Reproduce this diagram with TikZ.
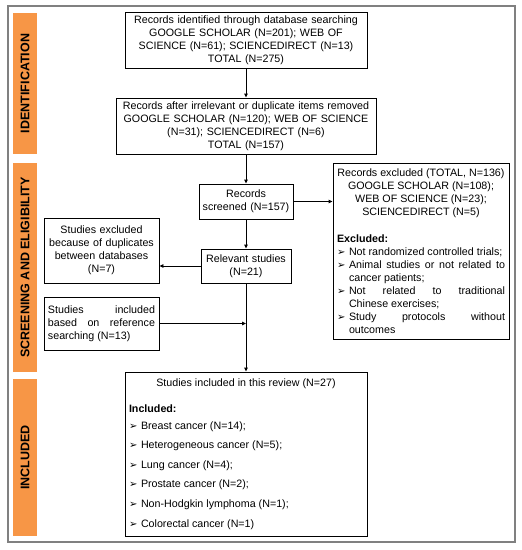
\documentclass[tikz,border=0pt]{standalone}
\usepackage{fontspec}
\setmainfont{Liberation Sans}
\newfontfamily\symfont{DejaVu Sans}
\usetikzlibrary{arrows.meta}

\definecolor{bandorange}{RGB}{247,150,70}

% rows for the hand-set boxes
\newcommand{\bul}{{\symfont\fontsize{10}{13}\selectfont ➢}}
\newcommand{\itm}[1]{\hbox to12pt{\bul\hss}#1}
\newcommand{\crow}[1]{\hbox to\hsize{\hss#1\hss}}
\newcommand{\jrow}[1]{\hbox to\hsize{#1}}
\newcommand{\lrow}[1]{\hbox to\hsize{#1\hfil}}

\begin{document}
\begin{tikzpicture}[x=1pt, y=-1pt,
    box/.style={draw, line width=0.9pt, inner xsep=4pt, inner ysep=2pt,
        font=\fontsize{10.7}{13}\selectfont},
    band/.style={fill=bandorange, rotate=90, minimum height=24pt, inner sep=0pt,
        font=\bfseries\fontsize{12.5}{13}\selectfont},
    arr/.style={-{Triangle[length=4pt,width=3.5pt]}, line width=0.9pt}]
    \useasboundingbox (0,0) rectangle (522,550);

    % Frame and stage bands
    \draw[gray, line width=1.3pt] (8,6) rectangle (515,542);
    \node[band, minimum width=141pt] (idband) at (25,83.5) {IDENTIFICATION};
    \node[band, minimum width=209pt] (scrband) at (25,267.5) {SCREENING AND ELIGIBILITY};
    \node[band, minimum width=157pt] (incband) at (25,457.5) {INCLUDED};

    % Main column
    \def\colx{246}
    \node[box, text width=234pt, minimum height=56pt, align=center] (found) at (\colx,40)
        {Records identified through database searching\\GOOGLE SCHOLAR (N=201); WEB OF\\SCIENCE (N=61); SCIENCEDIRECT (N=13)\\TOTAL (N=275)};
    \node[box, text width=252pt, minimum height=56pt, align=center] (cleaned) at (\colx,126)
        {Records after irrelevant or duplicate items removed\\GOOGLE SCHOLAR (N=120); WEB OF SCIENCE\\(N=31); SCIENCEDIRECT (N=6)\\TOTAL (N=157)};
    \node[box, inner xsep=1pt, text width=92pt, minimum height=35pt, align=center] (screened) at (\colx,201.5)
        {Records\\screened (N=157)};
    \node[box, inner xsep=1pt, text width=88pt, minimum height=34pt, align=center] (relevant) at (\colx,266)
        {Relevant studies\\(N=21)};
    \node[box, minimum width=242pt, minimum height=164pt] (review) at (\colx,454)
        {\vbox{\hsize=234pt
            \crow{Studies included in this review (N=27)}
            \vskip13pt
            \lrow{\bfseries Included:}
            \vskip3.5pt
            \lrow{\itm{Breast cancer (N=14);}}\vskip6.6pt
            \lrow{\itm{Heterogeneous cancer (N=5);}}\vskip6.6pt
            \lrow{\itm{Lung cancer (N=4);}}\vskip6.6pt
            \lrow{\itm{Prostate cancer (N=2);}}\vskip6.6pt
            \lrow{\itm{Non-Hodgkin lymphoma (N=1);}}\vskip6.6pt
            \lrow{\itm{Colorectal cancer (N=1)}}}};

    % Side boxes
    \node[box, minimum width=176pt, minimum height=176pt] (excluded) at (421,251)
        {\vbox{\hsize=168pt
            \crow{Records excluded (TOTAL, N=136)}
            \crow{GOOGLE SCHOLAR (N=108);}
            \crow{WEB OF SCIENCE (N=23);}
            \crow{SCIENCEDIRECT (N=5)}
            \vskip14pt
            \lrow{\bfseries Excluded:}
            \lrow{\itm{Not randomized controlled trials;}}
            \jrow{\itm{Animal studies or not related to}}
            \lrow{\hskip12pt cancer patients;}
            \jrow{\itm{Not related to traditional}}
            \lrow{\hskip12pt Chinese exercises;}
            \jrow{\itm{Study protocols without}}
            \lrow{\hskip12pt outcomes}}};
    \node[box, text width=107pt, minimum height=65pt, align=center] (duplicates) at (101.5,250.5)
        {Studies excluded\\because of duplicates\\between databases\\(N=7)};
    \node[box, minimum width=115pt, minimum height=53pt] (refsearch) at (101.5,323.5)
        {\vbox{\hsize=107pt
            \jrow{Studies included}
            \jrow{based on reference}
            \lrow{searching (N=13)}}};

    % Connectors
    \draw[arr] (found) -- (cleaned);
    \draw[arr] (cleaned) -- (screened);
    \draw[arr] (screened.east) -- (screened.east -| excluded.west);
    \draw[arr] (screened) -- (relevant);
    \draw[arr] (relevant.west) -- (relevant.west -| duplicates.east);
    \draw[arr] (relevant) -- (review);
    \draw[arr] (refsearch.east) -- (refsearch.east -| relevant.south);
\end{tikzpicture}
\end{document}
